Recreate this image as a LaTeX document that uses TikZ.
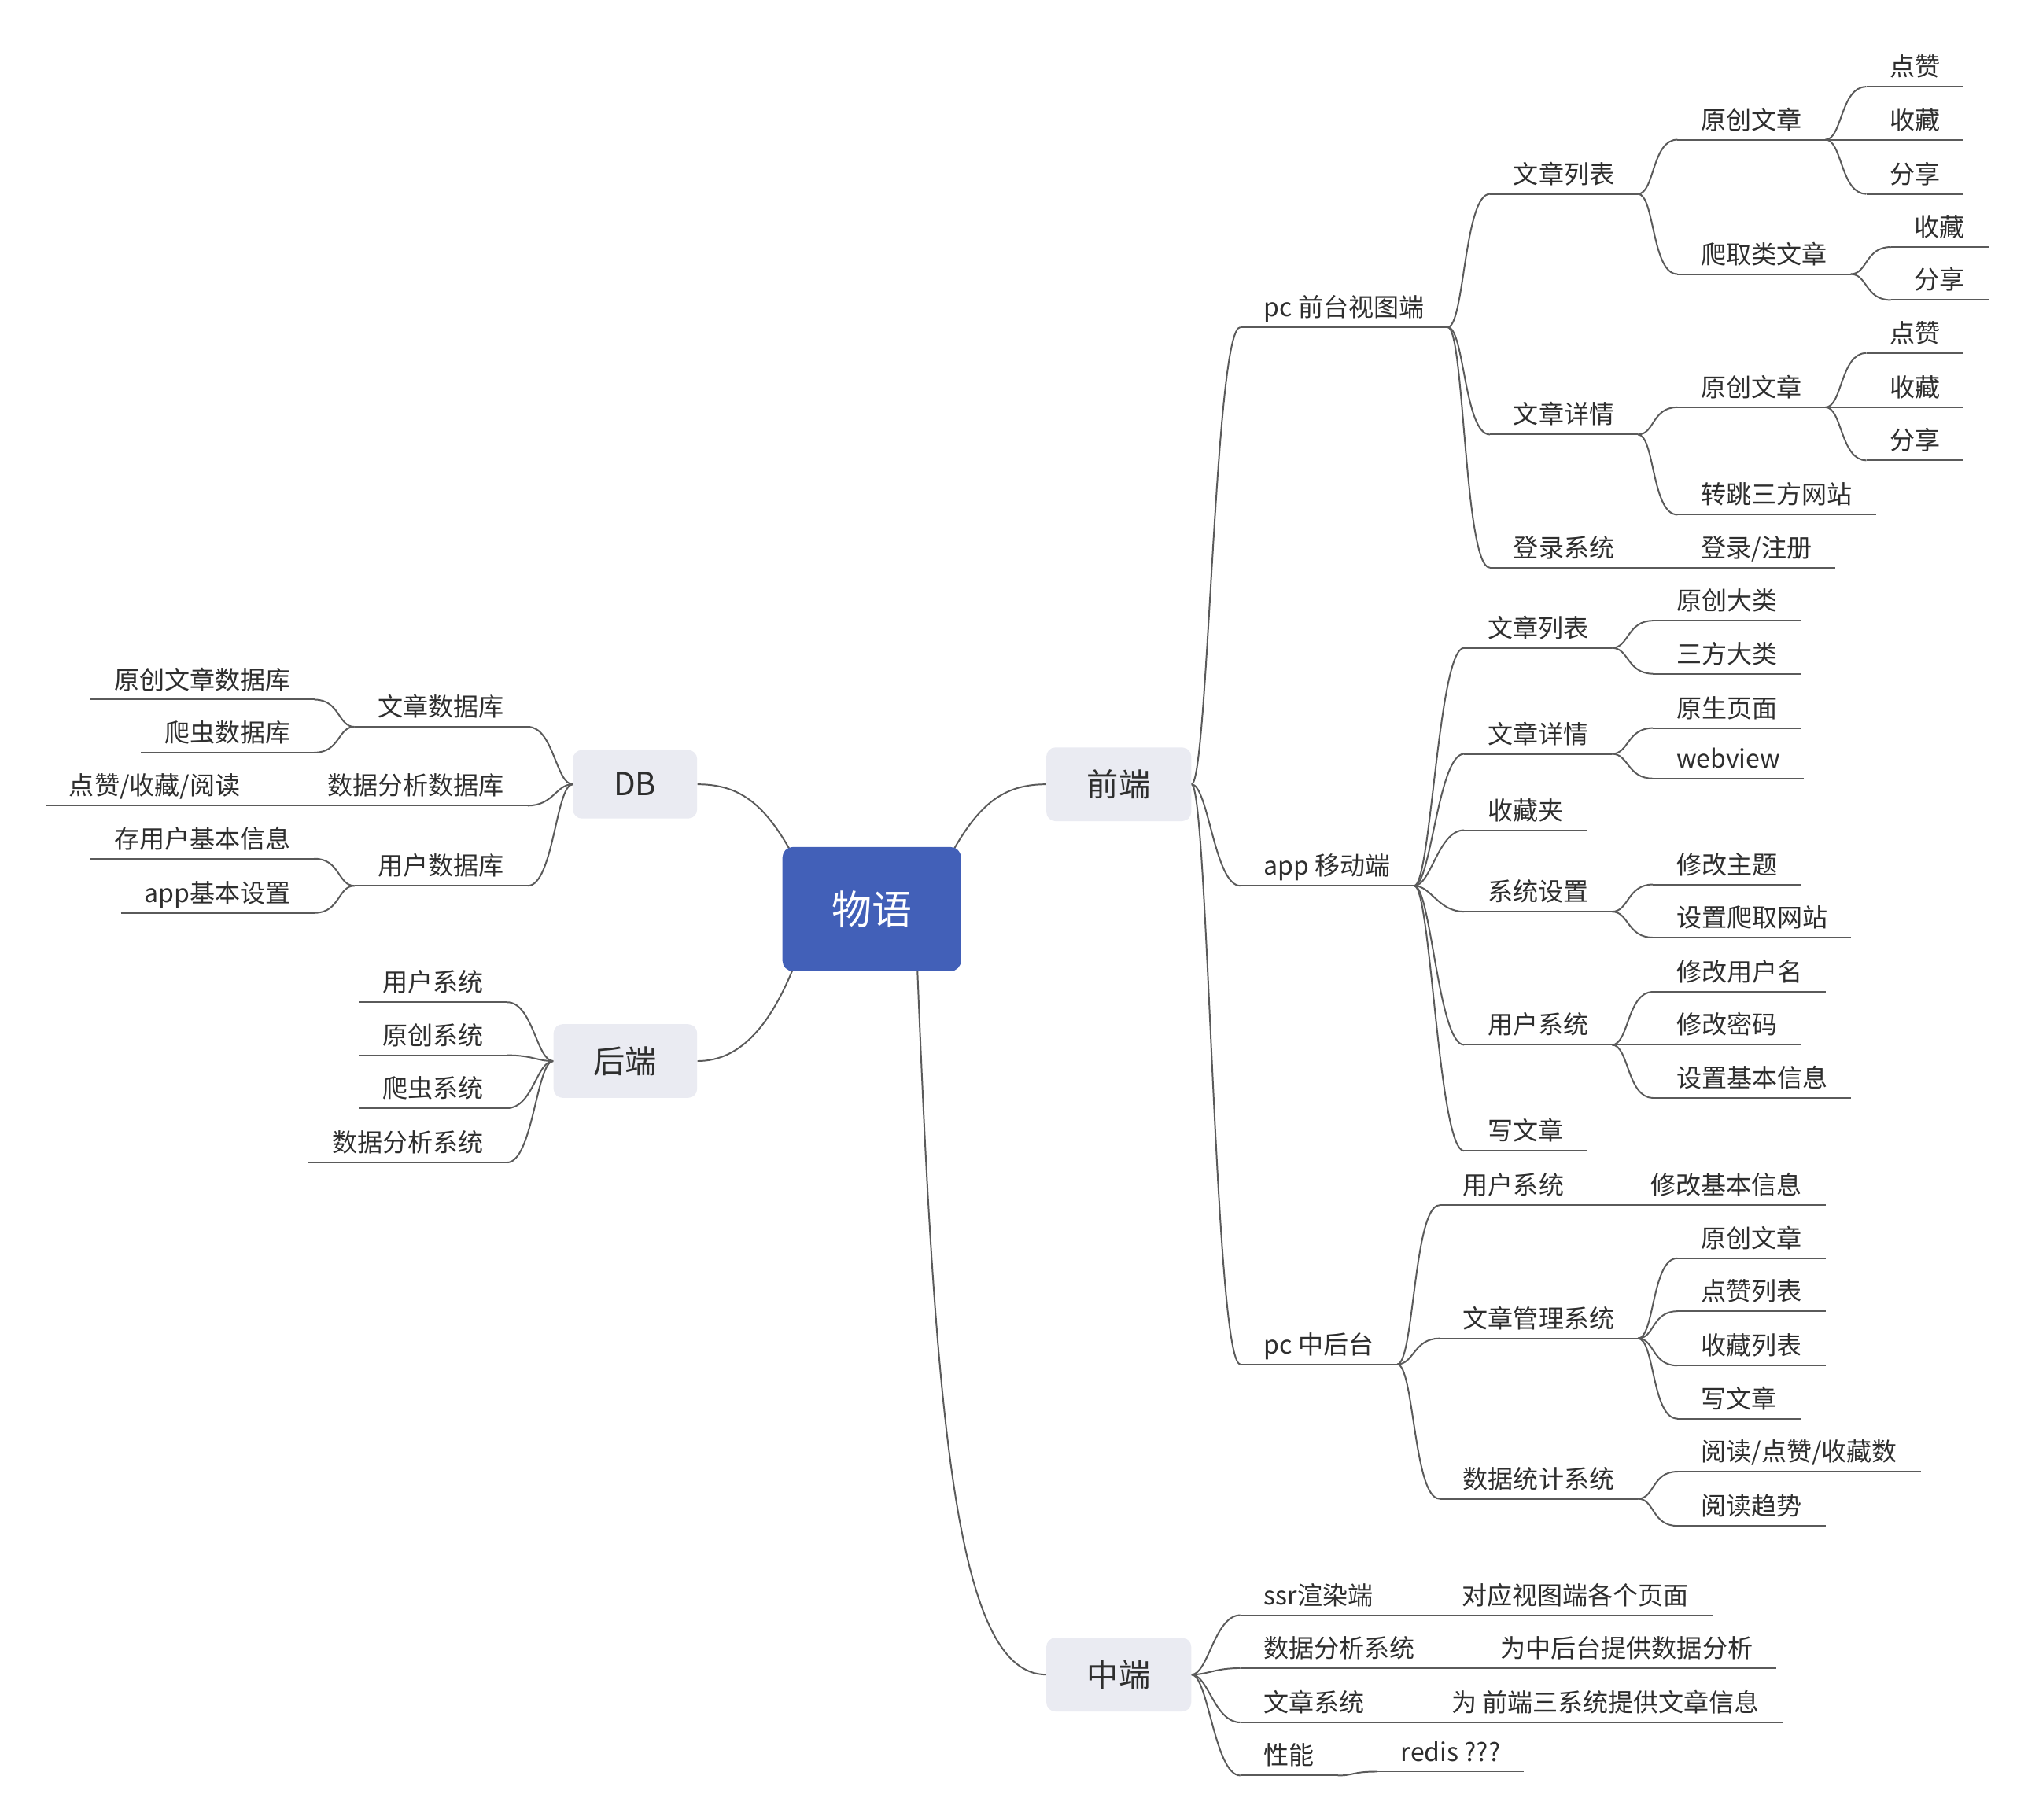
\documentclass[tikz,border=0pt]{standalone}
\usepackage{fontspec}
\setmainfont{Noto Sans CJK SC}
\usetikzlibrary{backgrounds}
\definecolor{linec}{HTML}{5A5A5A}
\definecolor{txt}{HTML}{2E2E2E}
\definecolor{rootc}{HTML}{4260B8}
\definecolor{mainc}{HTML}{EAEBF2}
\newcommand\fanR[2]{\foreach \c in {#2} {\draw[conn] (#1) .. controls +(13,0) and +(-20,0) .. (\c.south west);}}
\newcommand\fanL[2]{\foreach \c in {#2} {\draw[conn] (#1) .. controls +(-13,0) and +(20,0) .. (\c.south east);}}
\begin{document}
\begin{tikzpicture}[x=1pt,y=-1pt,
  conn/.style={draw=linec, line width=1.2pt},
  sub/.style={font=\fontsize{19.5}{23}\selectfont, text=txt, inner xsep=18pt, inner ysep=5pt, text height=15pt, text depth=3pt},
  R/.style={sub, anchor=south west},
  L/.style={sub, anchor=south east},
  mainbox/.style={fill=mainc, rounded corners=7pt, text=txt, font=\fontsize{24.5}{28}\selectfont, minimum width=112pt, minimum height=57pt, inner sep=0pt},
  rootbox/.style={fill=rootc, rounded corners=8pt, text=white, font=\fontsize{31}{34}\selectfont, minimum width=138pt, minimum height=96pt, inner sep=0pt}]
\useasboundingbox (0,0) rectangle (1568,1407);

% central and main topics
\node[rootbox] (root) at (674,703) {物语};
\node[mainbox] (qd) at (865,606.5) {前端};
\node[mainbox] (zd) at (865,1295) {中端};
\node[mainbox, minimum width=96pt, minimum height=53pt] (db) at (491,606.5) {DB};
\node[mainbox, minimum width=111pt] (hd) at (483.5,820.5) {后端};

% pc front
\node[R] (pcq) at (959,253) {pc 前台视图端};
\node[R] (pcqlb) at (1152,150) {文章列表};
\node[R] (pcqlbyc) at (1297,108) {原创文章};
\node[R] (a1) at (1443,67) {点赞};
\node[R] (a2) at (1443,108) {收藏};
\node[R] (a3) at (1443,150) {分享};
\node[R] (pcqlbpq) at (1297,212) {爬取类文章};
\node[R] (b1) at (1462,191) {收藏};
\node[R] (b2) at (1462,232) {分享};
\node[R] (pcqxq) at (1152,336) {文章详情};
\node[R] (pcqxqyc) at (1297,315) {原创文章};
\node[R] (c1) at (1443,273) {点赞};
\node[R] (c2) at (1443,315) {收藏};
\node[R] (c3) at (1443,356) {分享};
\node[R] (pcqxqtz) at (1297,398) {转跳三方网站};
\node[R] (pcqdl) at (1152,439) {登录系统};
\node[R] (pcqdlzc) at (1297,439) {登录/注册};

% app
\node[R] (app) at (959,685) {app 移动端};
\node[R] (d1) at (1132,501) {文章列表};
\node[R] (d11) at (1278,480) {原创大类};
\node[R] (d12) at (1278,521) {三方大类};
\node[R] (d2) at (1132,583) {文章详情};
\node[R] (d21) at (1278,563) {原生页面};
\node[R] (d22) at (1278,602) {webview};
\node[R] (d3) at (1132,642) {收藏夹};
\node[R] (d4) at (1132,705) {系统设置};
\node[R] (d41) at (1278,684) {修改主题};
\node[R] (d42) at (1278,725) {设置爬取网站};
\node[R] (d5) at (1132,808) {用户系统};
\node[R] (d51) at (1278,767) {修改用户名};
\node[R] (d52) at (1278,808) {修改密码};
\node[R] (d53) at (1278,849) {设置基本信息};
\node[R] (d6) at (1132,890) {写文章};

% pc admin
\node[R] (pcz) at (959,1055) {pc 中后台};
\node[R] (e1) at (1113,932) {用户系统};
\node[R] (e11) at (1258,932) {修改基本信息};
\node[R] (e2) at (1113,1035) {文章管理系统};
\node[R] (e21) at (1297,973) {原创文章};
\node[R] (e22) at (1297,1014) {点赞列表};
\node[R] (e23) at (1297,1056) {收藏列表};
\node[R] (e24) at (1297,1097) {写文章};
\node[R] (e3) at (1113,1159) {数据统计系统};
\node[R] (e31) at (1297,1138) {阅读/点赞/收藏数};
\node[R] (e32) at (1297,1180) {阅读趋势};

% middle
\node[R] (f1) at (959,1249) {ssr渲染端};
\node[R] (f11) at (1112,1249) {对应视图端各个页面};
\node[R] (f2) at (959,1290) {数据分析系统};
\node[R] (f21) at (1142,1290) {为中后台提供数据分析};
\node[R] (f3) at (959,1332) {文章系统};
\node[R] (f31) at (1104,1332) {为 前端三系统提供文章信息};
\node[R] (f4) at (959,1373) {性能};
\node[R] (f41) at (1065,1370) {redis ???};

% DB
\node[L] (g1) at (408,562) {文章数据库};
\node[L] (g11) at (243,541) {原创文章数据库};
\node[L] (g12) at (243,582) {爬虫数据库};
\node[L] (g2) at (408,623) {数据分析数据库};
\node[L] (g21) at (204,623) {点赞/收藏/阅读};
\node[L] (g3) at (408,685) {用户数据库};
\node[L] (g31) at (243,664) {存用户基本信息};
\node[L] (g32) at (243,706) {app基本设置};

% backend
\node[L] (h1) at (392,775) {用户系统};
\node[L] (h2) at (392,816) {原创系统};
\node[L] (h3) at (392,857) {爬虫系统};
\node[L] (h4) at (392,899) {数据分析系统};

\begin{pgfonlayer}{background}
% underlines
\foreach \n in {pcq,pcqlb,pcqlbyc,a1,a2,a3,pcqlbpq,b1,b2,pcqxq,pcqxqyc,c1,c2,c3,pcqxqtz,pcqdl,pcqdlzc,
  app,d1,d11,d12,d2,d21,d22,d3,d4,d41,d42,d5,d51,d52,d53,d6,
  pcz,e1,e11,e2,e21,e22,e23,e24,e3,e31,e32,
  f1,f11,f2,f21,f3,f31,f4,f41,
  g1,g11,g12,g2,g21,g3,g31,g32,h1,h2,h3,h4}
  {\draw[conn] (\n.south west) -- (\n.south east);}

% root connectors
\draw[conn] ([shift={(-8,6)}]root.north east) .. controls +(22,-40) and +(-32,0) .. (qd.west);
\draw[conn] ([shift={(8,6)}]root.north west) .. controls +(-22,-40) and +(32,0) .. (db.east);
\draw[conn] ([shift={(10,-6)}]root.south west) .. controls +(-18,45) and +(35,0) .. (hd.east);
\draw[conn] ([shift={(-34,-4)}]root.south east) .. controls +(14,350) and +(-70,0) .. (zd.west);

% right side fans
\fanR{qd.east}{pcq,app,pcz}
\fanR{pcq.south east}{pcqlb,pcqxq,pcqdl}
\fanR{pcqlb.south east}{pcqlbyc,pcqlbpq}
\fanR{pcqlbyc.south east}{a1,a2,a3}
\fanR{pcqlbpq.south east}{b1,b2}
\fanR{pcqxq.south east}{pcqxqyc,pcqxqtz}
\fanR{pcqxqyc.south east}{c1,c2,c3}
\fanR{pcqdl.south east}{pcqdlzc}
\fanR{app.south east}{d1,d2,d3,d4,d5,d6}
\fanR{d1.south east}{d11,d12}
\fanR{d2.south east}{d21,d22}
\fanR{d4.south east}{d41,d42}
\fanR{d5.south east}{d51,d52,d53}
\fanR{pcz.south east}{e1,e2,e3}
\fanR{e1.south east}{e11}
\fanR{e2.south east}{e21,e22,e23,e24}
\fanR{e3.south east}{e31,e32}
\fanR{zd.east}{f1,f2,f3,f4}
\fanR{f1.south east}{f11}
\fanR{f2.south east}{f21}
\fanR{f3.south east}{f31}
\fanR{f4.south east}{f41}

% left side fans
\fanL{db.west}{g1,g2,g3}
\fanL{g1.south west}{g11,g12}
\fanL{g2.south west}{g21}
\fanL{g3.south west}{g31,g32}
\fanL{hd.west}{h1,h2,h3,h4}
\end{pgfonlayer}
\end{tikzpicture}
\end{document}
